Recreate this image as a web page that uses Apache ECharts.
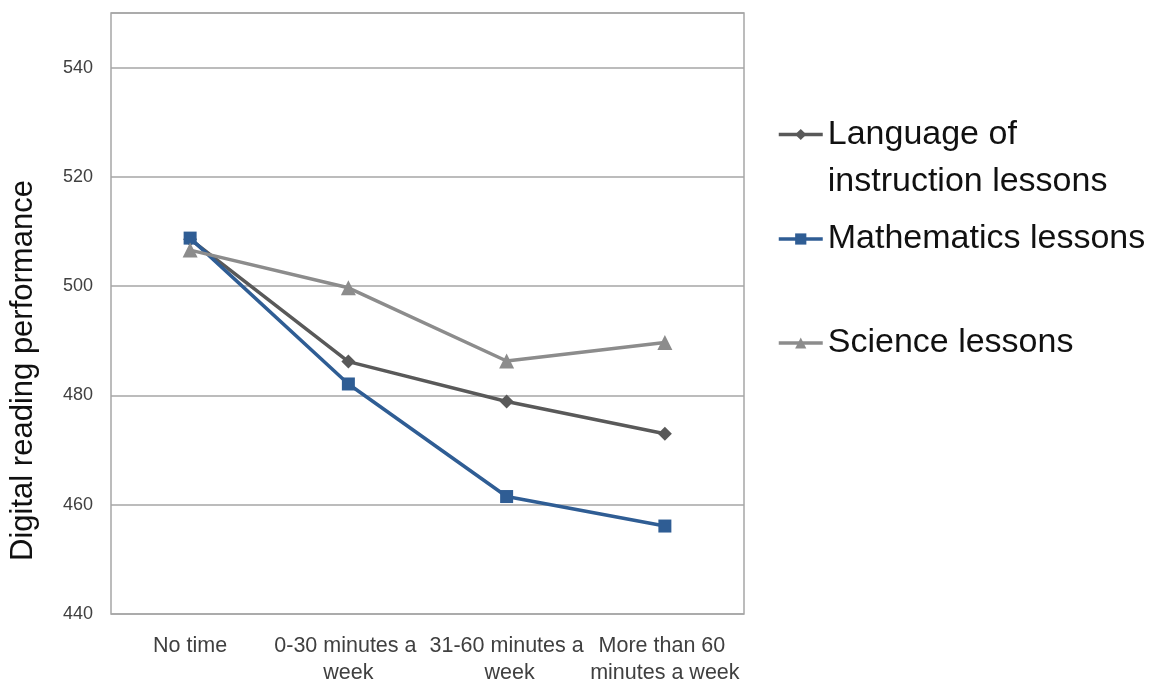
<!DOCTYPE html>
<html>
<head>
<meta charset="utf-8">
<script src="https://cdn.jsdelivr.net/npm/echarts@6/dist/echarts.min.js"></script>
<style>
  html, body { margin: 0; padding: 0; background: #ffffff; }
  #chart { width: 1159px; height: 682px; }
</style>
</head>
<body>
<div id="chart"></div>
<script>
const categories = ['No time', '0-30 minutes a week', '31-60 minutes a week', 'More than 60 minutes a week'];
const languageValues = [508.6, 486.2, 478.9, 473.0];
const mathValues = [508.8, 482.1, 461.5, 456.1];
const scienceValues = [506.6, 499.7, 486.3, 489.7];
const seriesNames = ['Language of instruction lessons', 'Mathematics lessons', 'Science lessons'];
const yAxisTitle = 'Digital reading performance';

const chart = echarts.init(document.getElementById('chart'), null, { renderer: 'canvas' });
const FONT = '"Liberation Sans", Arial, sans-serif';

const legendBase = {
  orient: 'vertical',
  left: 772,
  itemWidth: 44,
  itemHeight: 14,
  lineStyle: { width: 3.5 },
  textStyle: { fontFamily: FONT, fontSize: 34, color: '#111111' },
  selectedMode: false
};

chart.setOption({
  backgroundColor: '#ffffff',
  animation: false,
  grid: {
    left: 111, right: 415, top: 13, bottom: 68,
    outerBoundsMode: 'none',
    containLabel: false,
    show: true, borderColor: '#a6a6a6', borderWidth: 1.5, backgroundColor: 'transparent'
  },
  legend: [
    Object.assign({}, legendBase, {
      top: 59,
      data: [seriesNames[0]],
      formatter: function () { return '\nLanguage of\ninstruction lessons'; },
      textStyle: { fontFamily: FONT, fontSize: 34, color: '#111111', lineHeight: 47 }
    }),
    Object.assign({}, legendBase, { top: 217, data: [seriesNames[1]] }),
    Object.assign({}, legendBase, { top: 321, data: [seriesNames[2]] })
  ],
  xAxis: {
    type: 'category',
    data: categories,
    boundaryGap: true,
    axisLine: { show: false },
    axisTick: { show: false },
    axisLabel: {
      interval: 0, margin: 19,
      fontFamily: FONT, fontSize: 21.5, lineHeight: 27, color: '#404040',
      width: 160, overflow: 'break'
    },
    splitLine: { show: false }
  },
  yAxis: {
    type: 'value',
    min: 440, max: 550, interval: 20,
    name: yAxisTitle,
    nameLocation: 'middle',
    nameGap: 72,
    nameRotate: 90,
    nameTextStyle: { fontFamily: FONT, fontSize: 31, color: '#111111', padding: [0, 114, 0, 0] },
    axisLine: { show: false },
    axisTick: { show: false },
    axisLabel: { showMaxLabel: false, margin: 18, fontFamily: FONT, fontSize: 18, color: '#404040' },
    splitLine: { show: true, lineStyle: { color: '#a6a6a6', width: 1.5 } }
  },
  series: [
    {
      name: seriesNames[0], type: 'line', data: languageValues,
      symbol: 'diamond', symbolSize: 14,
      lineStyle: { color: '#595959', width: 3.5 },
      itemStyle: { color: '#595959' }
    },
    {
      name: seriesNames[1], type: 'line', data: mathValues,
      symbol: 'rect', symbolSize: 13,
      lineStyle: { color: '#2f5d94', width: 3.5 },
      itemStyle: { color: '#2f5d94' }
    },
    {
      name: seriesNames[2], type: 'line', data: scienceValues,
      symbol: 'triangle', symbolSize: 15,
      lineStyle: { color: '#8c8c8c', width: 3.5 },
      itemStyle: { color: '#8c8c8c' }
    }
  ]
});
</script>
</body>
</html>
